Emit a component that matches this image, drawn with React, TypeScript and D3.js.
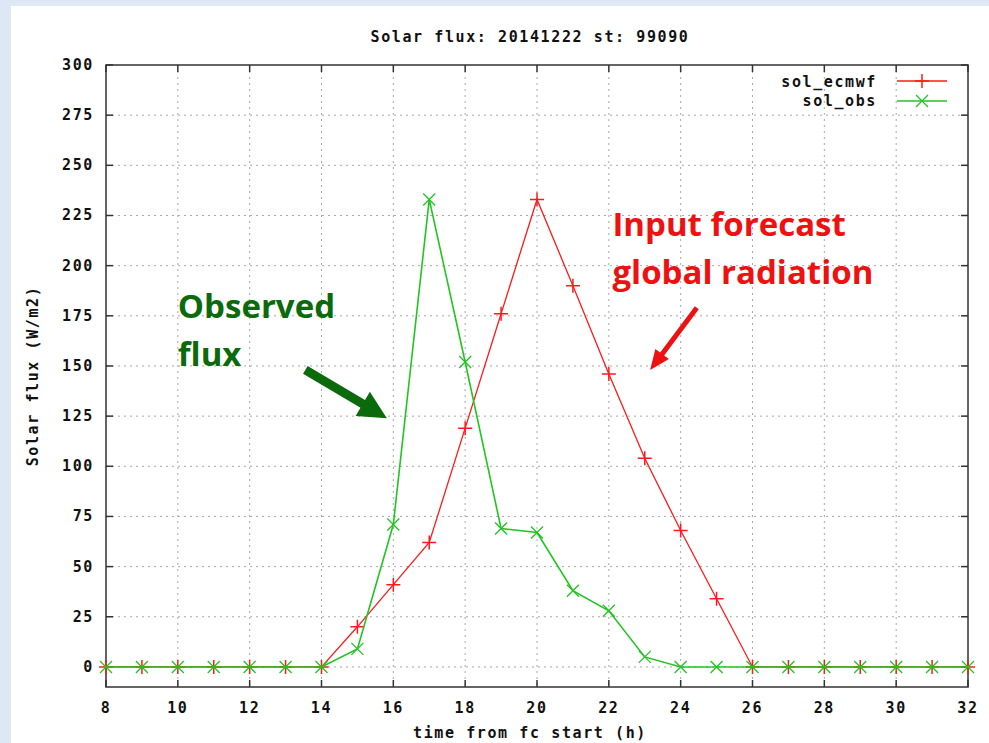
import { useRef, useEffect } from 'react'
import * as d3 from 'd3'

const HOURS = d3.range(8, 33)
const SOL_ECMWF = [0, 0, 0, 0, 0, 0, 0, 20, 41, 62, 119, 176, 233, 190, 146, 104, 68, 34, 0, 0, 0, 0, 0, 0, 0]
const SOL_OBS = [0, 0, 0, 0, 0, 0, 0, 9, 71, 233, 152, 69, 67, 38, 28, 5, 0, 0, 0, 0, 0, 0, 0, 0, 0]
const X_TICKS = [8, 10, 12, 14, 16, 18, 20, 22, 24, 26, 28, 30, 32]
const Y_TICKS = [0, 25, 50, 75, 100, 125, 150, 175, 200, 225, 250, 275, 300]

const RED = '#ff1a1a'
const GREEN = '#22c422'
const MONO = "'DejaVu Sans Mono', monospace"
const SANS = "'Open Sans', 'Lato', sans-serif"

export default function App() {
  const svgRef = useRef<SVGSVGElement>(null)

  useEffect(() => {
    const svg = svgRef.current
    if (!svg) return
    const W = 989
    const H = 743
    const sel = d3.select(svg)
    sel.selectAll('*').remove()

    sel.append('rect').attr('width', W).attr('height', H).attr('fill', '#dde8f4')
    sel.append('rect').attr('x', 11).attr('y', 6).attr('width', W - 11).attr('height', H - 6).attr('fill', '#fff')

    const left = 106, right = 968, top = 65, bottom = 687
    const x = d3.scaleLinear().domain([8, 32]).range([left, right])
    const y = d3.scaleLinear().domain([-10, 300]).range([bottom, top])

    const label = (sx: number, sy: number, t: string, anchor = 'middle') =>
      sel.append('text')
        .attr('x', sx).attr('y', sy)
        .attr('text-anchor', anchor).attr('dominant-baseline', 'central')
        .attr('font-family', MONO).attr('font-weight', 'bold')
        .attr('font-size', '15px').attr('letter-spacing', '1.6px')
        .attr('fill', '#111')
        .text(t)

    // grid
    X_TICKS.slice(1, -1).forEach((t) => {
      sel.append('line')
        .attr('x1', x(t)).attr('x2', x(t)).attr('y1', top).attr('y2', bottom)
        .attr('stroke', '#a8a8a8').attr('stroke-dasharray', '2,4')
    })
    Y_TICKS.slice(0, -1).forEach((t) => {
      sel.append('line')
        .attr('x1', left).attr('x2', right).attr('y1', y(t)).attr('y2', y(t))
        .attr('stroke', '#a8a8a8').attr('stroke-dasharray', '2,4')
    })

    // ticks and labels
    X_TICKS.forEach((t) => {
      sel.append('line').attr('x1', x(t)).attr('x2', x(t)).attr('y1', bottom).attr('y2', bottom - 7)
        .attr('stroke', '#333').attr('stroke-width', 1.5)
      sel.append('line').attr('x1', x(t)).attr('x2', x(t)).attr('y1', top).attr('y2', top + 7)
        .attr('stroke', '#333').attr('stroke-width', 1.5)
      label(x(t), 708, String(t))
    })
    Y_TICKS.forEach((t) => {
      sel.append('line').attr('x1', left).attr('x2', left + 7).attr('y1', y(t)).attr('y2', y(t))
        .attr('stroke', '#333').attr('stroke-width', 1.5)
      sel.append('line').attr('x1', right).attr('x2', right - 7).attr('y1', y(t)).attr('y2', y(t))
        .attr('stroke', '#333').attr('stroke-width', 1.5)
      label(94, y(t), String(t), 'end')
    })

    sel.append('rect')
      .attr('x', left).attr('y', top).attr('width', right - left).attr('height', bottom - top)
      .attr('fill', 'none').attr('stroke', '#333').attr('stroke-width', 1.5)

    label(530, 37, 'Solar flux: 20141222 st: 99090')
    label(530, 733, 'time from fc start (h)')
    label(0, 0, 'Solar flux (W/m2)').attr('transform', `translate(33,${(top + bottom) / 2}) rotate(-90)`)

    // series
    const line = d3.line<number>().x((d, i) => x(HOURS[i])).y((d) => y(d))
    const plus = (cx: number, cy: number, col: string, s = 7) =>
      sel.append('path').attr('d', `M${cx - s},${cy}H${cx + s}M${cx},${cy - s}V${cy + s}`)
        .attr('stroke', col).attr('stroke-width', 1.5)
    const cross = (cx: number, cy: number, col: string, s = 6) =>
      sel.append('path').attr('d', `M${cx - s},${cy - s}L${cx + s},${cy + s}M${cx - s},${cy + s}L${cx + s},${cy - s}`)
        .attr('stroke', col).attr('stroke-width', 1.3)

    sel.append('path').datum(SOL_ECMWF).attr('d', line).attr('fill', 'none').attr('stroke', RED).attr('stroke-width', 1.3)
    SOL_ECMWF.forEach((v, i) => plus(x(HOURS[i]), y(v), RED))
    sel.append('path').datum(SOL_OBS).attr('d', line).attr('fill', 'none').attr('stroke', GREEN).attr('stroke-width', 1.6)
    SOL_OBS.forEach((v, i) => cross(x(HOURS[i]), y(v), GREEN))

    // legend
    label(877, 82, 'sol_ecmwf', 'end')
    sel.append('line').attr('x1', 897).attr('x2', 947).attr('y1', 81).attr('y2', 81).attr('stroke', RED).attr('stroke-width', 1.5)
    plus(922, 81, RED)
    label(877, 101, 'sol_obs', 'end')
    sel.append('line').attr('x1', 897).attr('x2', 947).attr('y1', 101).attr('y2', 101).attr('stroke', GREEN).attr('stroke-width', 1.5)
    cross(922, 101, GREEN)

    // annotations
    const arrow = (x0: number, y0: number, x1: number, y1: number, col: string, w: number, hl: number, hw: number) => {
      const ang = Math.atan2(y1 - y0, x1 - x0) * 180 / Math.PI
      const len = Math.hypot(x1 - x0, y1 - y0)
      sel.append('path')
        .attr('d', `M0,${-w / 2}L${len - hl},${-w / 2}L${len - hl},${-hw / 2}L${len},0L${len - hl},${hw / 2}L${len - hl},${w / 2}L0,${w / 2}Z`)
        .attr('fill', col)
        .attr('transform', `translate(${x0},${y0}) rotate(${ang})`)
    }
    arrow(x(13.55), y(148), x(15.82), y(124), '#0b6a0b', 9, 28, 28)
    arrow(x(24.45), y(179), x(23.15), y(148), '#ee1111', 5, 20, 17)

    const note = (sx: number, sy: number, t: string, col: string) =>
      sel.append('text').attr('x', sx).attr('y', sy)
        .attr('font-family', SANS).attr('font-weight', 'bold').attr('font-size', '33px')
        .attr('fill', col).text(t)
    note(x(10.0), y(174), 'Observed', '#0b6a0b')
    note(x(10.0), y(150), 'flux', '#0b6a0b')
    note(x(22.1), y(215), 'Input forecast', '#ee1111')
    note(x(22.1), y(191), 'global radiation', '#ee1111')
  }, [])

  return <svg ref={svgRef} width={989} height={743} style={{ position: 'absolute', left: 0, top: 0 }} />
}
